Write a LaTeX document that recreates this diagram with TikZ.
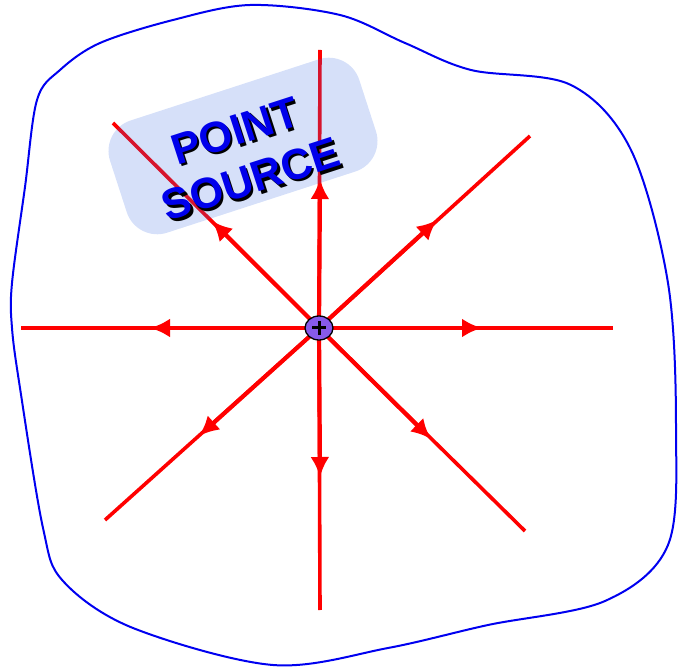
\documentclass[tikz,border=0pt]{standalone}
\usepackage{fontspec}
\setmainfont{Liberation Sans}
\usetikzlibrary{arrows.meta,shapes.geometric}
\definecolor{fieldred}{RGB}{255,0,0}
\definecolor{blobblue}{RGB}{0,0,240}
\definecolor{boxblue}{RGB}{50,100,225}
\definecolor{textblue}{RGB}{0,0,235}
\definecolor{chargepurple}{RGB}{135,90,235}
\tikzset{
  inner/.style={draw=fieldred, line width=4.2pt, -{Latex[length=20pt,width=19pt]}},
  outer/.style={draw=fieldred, line width=3.6pt},
  labelbox/.style={rectangle, rounded corners=32pt, fill=boxblue, fill opacity=0.2,
    minimum width=262pt, minimum height=118pt, rotate=18, inner sep=0pt},
  labeltext/.style={font=\fontsize{43}{51}\selectfont\bfseries, align=center, rotate=18, inner sep=0pt},
  charge/.style={ellipse, draw=black, line width=1.3pt, fill=chargepurple,
    minimum width=28pt, minimum height=24pt, inner sep=0pt}
}
\begin{document}
\begin{tikzpicture}[x=1pt,y=-1pt]
\useasboundingbox (0,0) rectangle (678,668);
% boundary
\draw[blobblue, line width=2pt] plot[smooth cycle, tension=0.55] coordinates {
 (250,5) (340,15) (405,43) (471,70) (571,85) (631,150) (668,283) (676,428)
 (668,545) (605,601) (488,625) (388,648) (273,665) (133,628) (63,581)
 (43,528) (20,388) (12,328) (12,283) (25,187) (37,100) (60,70) (100,43) (173,20)};
% centre
\coordinate (c) at (319,328);
\coordinate (eL) at (21,328);   \coordinate (tL) at (150,328);
\coordinate (eR) at (613,328);  \coordinate (tR) at (482,328);
\coordinate (eU) at (320,50);   \coordinate (tU) at (320,179);
\coordinate (eD) at (320,610);  \coordinate (tD) at (320,477);
\coordinate (eUL) at (113,123); \coordinate (tUL) at (212,221);
\coordinate (eUR) at (530,136); \coordinate (tUR) at (437,220);
\coordinate (eDL) at (105,520); \coordinate (tDL) at (199,436);
\coordinate (eDR) at (525,531); \coordinate (tDR) at (431,439);
\foreach \d in {L,R,U,D,UL,UR,DL,DR}{
  \draw[outer] (c) -- (e\d);
  \draw[inner] (c) -- (t\d);
}
% label
\node[labelbox] (box) at (243,146) {};
\node[labeltext, text=black] (shadow) at (245.5,157.5) {POINT\\SOURCE};
\node[labeltext, text=textblue] (label) at (243,155) {POINT\\SOURCE};
% charge
\node[charge] (q) at (c) {};
\draw[black, line width=3pt] ([xshift=-7pt]q.center) -- ([xshift=7pt]q.center);
\draw[black, line width=3pt] ([yshift=-7pt]q.center) -- ([yshift=7pt]q.center);
\end{tikzpicture}
\end{document}
